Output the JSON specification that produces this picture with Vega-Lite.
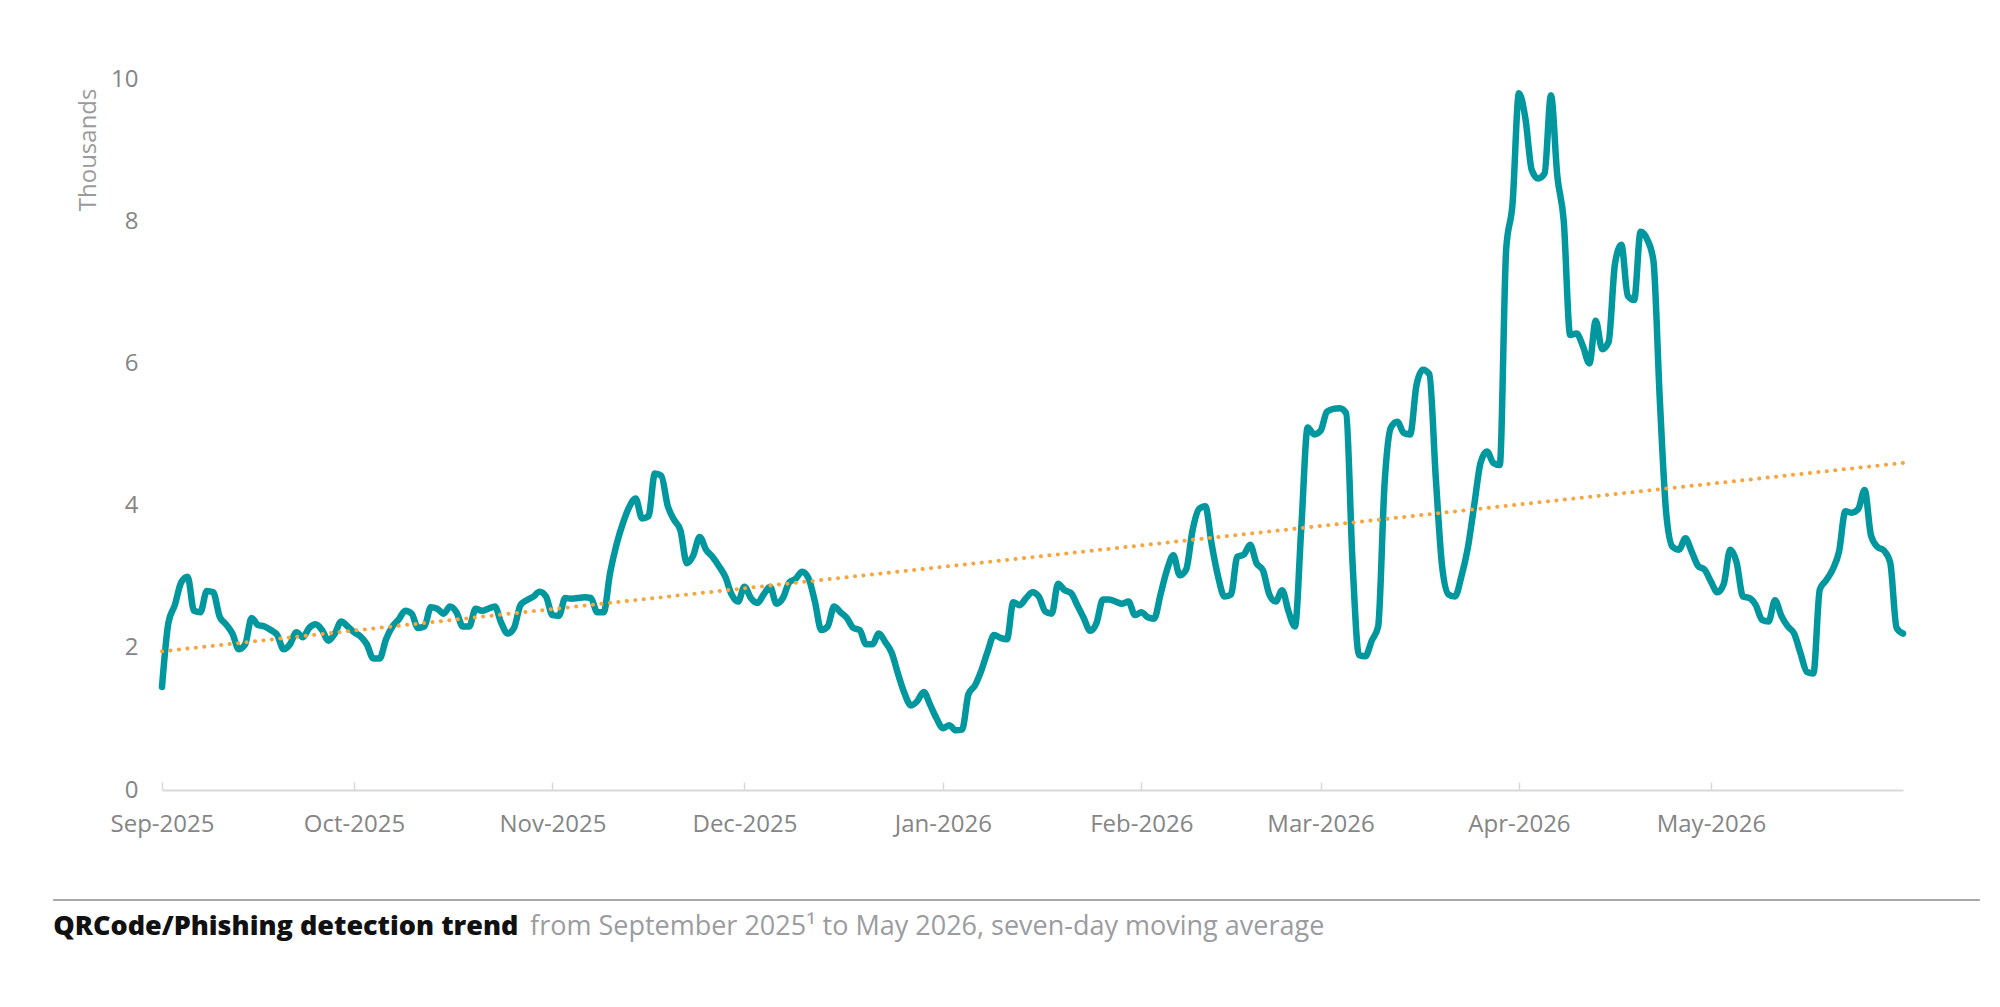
{
  "$schema": "https://vega.github.io/schema/vega-lite/v6.json",
  "width": 1741,
  "height": 711,
  "autosize": {"type": "none"},
  "padding": {"left": 162, "top": 79, "right": 97, "bottom": 217},
  "background": "white",
  "config": {"view": {"stroke": null}, "font": "Open Sans"},
  "datasets": {
    "detections": [
      {"date": "2025-09-01", "k": 1.45}, {"date": "2025-09-02", "k": 2.35}, {"date": "2025-09-03", "k": 2.6}, {"date": "2025-09-04", "k": 2.92},
      {"date": "2025-09-05", "k": 3.0}, {"date": "2025-09-06", "k": 2.52}, {"date": "2025-09-07", "k": 2.5}, {"date": "2025-09-08", "k": 2.8},
      {"date": "2025-09-09", "k": 2.78}, {"date": "2025-09-10", "k": 2.44}, {"date": "2025-09-11", "k": 2.33}, {"date": "2025-09-12", "k": 2.2},
      {"date": "2025-09-13", "k": 1.98}, {"date": "2025-09-14", "k": 2.05}, {"date": "2025-09-15", "k": 2.42}, {"date": "2025-09-16", "k": 2.32},
      {"date": "2025-09-17", "k": 2.3}, {"date": "2025-09-18", "k": 2.25}, {"date": "2025-09-19", "k": 2.18}, {"date": "2025-09-20", "k": 1.98},
      {"date": "2025-09-21", "k": 2.05}, {"date": "2025-09-22", "k": 2.22}, {"date": "2025-09-23", "k": 2.15}, {"date": "2025-09-24", "k": 2.28},
      {"date": "2025-09-25", "k": 2.33}, {"date": "2025-09-26", "k": 2.25}, {"date": "2025-09-27", "k": 2.1}, {"date": "2025-09-28", "k": 2.2},
      {"date": "2025-09-29", "k": 2.37}, {"date": "2025-09-30", "k": 2.3},
      {"date": "2025-10-01", "k": 2.22}, {"date": "2025-10-02", "k": 2.16}, {"date": "2025-10-03", "k": 2.05}, {"date": "2025-10-04", "k": 1.85},
      {"date": "2025-10-05", "k": 1.85}, {"date": "2025-10-06", "k": 2.12}, {"date": "2025-10-07", "k": 2.3}, {"date": "2025-10-08", "k": 2.4},
      {"date": "2025-10-09", "k": 2.52}, {"date": "2025-10-10", "k": 2.48}, {"date": "2025-10-11", "k": 2.28}, {"date": "2025-10-12", "k": 2.3},
      {"date": "2025-10-13", "k": 2.57}, {"date": "2025-10-14", "k": 2.55}, {"date": "2025-10-15", "k": 2.48}, {"date": "2025-10-16", "k": 2.58},
      {"date": "2025-10-17", "k": 2.5}, {"date": "2025-10-18", "k": 2.3}, {"date": "2025-10-19", "k": 2.3}, {"date": "2025-10-20", "k": 2.55},
      {"date": "2025-10-21", "k": 2.52}, {"date": "2025-10-22", "k": 2.55}, {"date": "2025-10-23", "k": 2.58}, {"date": "2025-10-24", "k": 2.35},
      {"date": "2025-10-25", "k": 2.2}, {"date": "2025-10-26", "k": 2.28}, {"date": "2025-10-27", "k": 2.6}, {"date": "2025-10-28", "k": 2.67},
      {"date": "2025-10-29", "k": 2.72}, {"date": "2025-10-30", "k": 2.79}, {"date": "2025-10-31", "k": 2.72},
      {"date": "2025-11-01", "k": 2.46}, {"date": "2025-11-02", "k": 2.45}, {"date": "2025-11-03", "k": 2.7}, {"date": "2025-11-04", "k": 2.69},
      {"date": "2025-11-05", "k": 2.7}, {"date": "2025-11-06", "k": 2.71}, {"date": "2025-11-07", "k": 2.7}, {"date": "2025-11-08", "k": 2.5},
      {"date": "2025-11-09", "k": 2.5}, {"date": "2025-11-10", "k": 3.05}, {"date": "2025-11-11", "k": 3.45}, {"date": "2025-11-12", "k": 3.75},
      {"date": "2025-11-13", "k": 3.98}, {"date": "2025-11-14", "k": 4.1}, {"date": "2025-11-15", "k": 3.82}, {"date": "2025-11-16", "k": 3.85},
      {"date": "2025-11-17", "k": 4.45}, {"date": "2025-11-18", "k": 4.42}, {"date": "2025-11-19", "k": 4.0}, {"date": "2025-11-20", "k": 3.8},
      {"date": "2025-11-21", "k": 3.65}, {"date": "2025-11-22", "k": 3.19}, {"date": "2025-11-23", "k": 3.3}, {"date": "2025-11-24", "k": 3.56},
      {"date": "2025-11-25", "k": 3.38}, {"date": "2025-11-26", "k": 3.28}, {"date": "2025-11-27", "k": 3.15}, {"date": "2025-11-28", "k": 3.0},
      {"date": "2025-11-29", "k": 2.75}, {"date": "2025-11-30", "k": 2.65},
      {"date": "2025-12-01", "k": 2.86}, {"date": "2025-12-02", "k": 2.7}, {"date": "2025-12-03", "k": 2.63}, {"date": "2025-12-04", "k": 2.75},
      {"date": "2025-12-05", "k": 2.86}, {"date": "2025-12-06", "k": 2.62}, {"date": "2025-12-07", "k": 2.7}, {"date": "2025-12-08", "k": 2.92},
      {"date": "2025-12-09", "k": 2.97}, {"date": "2025-12-10", "k": 3.07}, {"date": "2025-12-11", "k": 2.98}, {"date": "2025-12-12", "k": 2.65},
      {"date": "2025-12-13", "k": 2.25}, {"date": "2025-12-14", "k": 2.3}, {"date": "2025-12-15", "k": 2.58}, {"date": "2025-12-16", "k": 2.5},
      {"date": "2025-12-17", "k": 2.42}, {"date": "2025-12-18", "k": 2.28}, {"date": "2025-12-19", "k": 2.25}, {"date": "2025-12-20", "k": 2.05},
      {"date": "2025-12-21", "k": 2.05}, {"date": "2025-12-22", "k": 2.2}, {"date": "2025-12-23", "k": 2.08}, {"date": "2025-12-24", "k": 1.93},
      {"date": "2025-12-25", "k": 1.63}, {"date": "2025-12-26", "k": 1.36}, {"date": "2025-12-27", "k": 1.19}, {"date": "2025-12-28", "k": 1.25},
      {"date": "2025-12-29", "k": 1.38}, {"date": "2025-12-30", "k": 1.2}, {"date": "2025-12-31", "k": 1.01},
      {"date": "2026-01-01", "k": 0.87}, {"date": "2026-01-02", "k": 0.91}, {"date": "2026-01-03", "k": 0.84}, {"date": "2026-01-04", "k": 0.85},
      {"date": "2026-01-05", "k": 1.35}, {"date": "2026-01-06", "k": 1.47}, {"date": "2026-01-07", "k": 1.68}, {"date": "2026-01-08", "k": 1.95},
      {"date": "2026-01-09", "k": 2.18}, {"date": "2026-01-10", "k": 2.14}, {"date": "2026-01-11", "k": 2.12}, {"date": "2026-01-12", "k": 2.64},
      {"date": "2026-01-13", "k": 2.6}, {"date": "2026-01-14", "k": 2.7}, {"date": "2026-01-15", "k": 2.78}, {"date": "2026-01-16", "k": 2.72},
      {"date": "2026-01-17", "k": 2.51}, {"date": "2026-01-18", "k": 2.48}, {"date": "2026-01-19", "k": 2.9}, {"date": "2026-01-20", "k": 2.81},
      {"date": "2026-01-21", "k": 2.77}, {"date": "2026-01-22", "k": 2.6}, {"date": "2026-01-23", "k": 2.42}, {"date": "2026-01-24", "k": 2.24},
      {"date": "2026-01-25", "k": 2.35}, {"date": "2026-01-26", "k": 2.68}, {"date": "2026-01-27", "k": 2.68}, {"date": "2026-01-28", "k": 2.65},
      {"date": "2026-01-29", "k": 2.62}, {"date": "2026-01-30", "k": 2.65}, {"date": "2026-01-31", "k": 2.46},
      {"date": "2026-02-01", "k": 2.5}, {"date": "2026-02-02", "k": 2.43}, {"date": "2026-02-03", "k": 2.41}, {"date": "2026-02-04", "k": 2.75},
      {"date": "2026-02-05", "k": 3.09}, {"date": "2026-02-06", "k": 3.3}, {"date": "2026-02-07", "k": 3.02}, {"date": "2026-02-08", "k": 3.1},
      {"date": "2026-02-09", "k": 3.65}, {"date": "2026-02-10", "k": 3.95}, {"date": "2026-02-11", "k": 3.99}, {"date": "2026-02-12", "k": 3.45},
      {"date": "2026-02-13", "k": 3.0}, {"date": "2026-02-14", "k": 2.72}, {"date": "2026-02-15", "k": 2.75}, {"date": "2026-02-16", "k": 3.28},
      {"date": "2026-02-17", "k": 3.31}, {"date": "2026-02-18", "k": 3.45}, {"date": "2026-02-19", "k": 3.19}, {"date": "2026-02-20", "k": 3.09},
      {"date": "2026-02-21", "k": 2.75}, {"date": "2026-02-22", "k": 2.65}, {"date": "2026-02-23", "k": 2.81}, {"date": "2026-02-24", "k": 2.51},
      {"date": "2026-02-25", "k": 2.3}, {"date": "2026-02-26", "k": 3.7}, {"date": "2026-02-27", "k": 5.1}, {"date": "2026-02-28", "k": 5.0},
      {"date": "2026-03-01", "k": 5.05}, {"date": "2026-03-02", "k": 5.32}, {"date": "2026-03-03", "k": 5.36}, {"date": "2026-03-04", "k": 5.37},
      {"date": "2026-03-05", "k": 5.3}, {"date": "2026-03-06", "k": 3.2}, {"date": "2026-03-07", "k": 1.9}, {"date": "2026-03-08", "k": 1.88},
      {"date": "2026-03-09", "k": 2.1}, {"date": "2026-03-10", "k": 2.3}, {"date": "2026-03-11", "k": 4.3}, {"date": "2026-03-12", "k": 5.1},
      {"date": "2026-03-13", "k": 5.18}, {"date": "2026-03-14", "k": 5.02}, {"date": "2026-03-15", "k": 5.0}, {"date": "2026-03-16", "k": 5.7},
      {"date": "2026-03-17", "k": 5.91}, {"date": "2026-03-18", "k": 5.85}, {"date": "2026-03-19", "k": 4.4}, {"date": "2026-03-20", "k": 3.14},
      {"date": "2026-03-21", "k": 2.75}, {"date": "2026-03-22", "k": 2.72}, {"date": "2026-03-23", "k": 3.0}, {"date": "2026-03-24", "k": 3.4},
      {"date": "2026-03-25", "k": 4.0}, {"date": "2026-03-26", "k": 4.6}, {"date": "2026-03-27", "k": 4.76}, {"date": "2026-03-28", "k": 4.6},
      {"date": "2026-03-29", "k": 4.57}, {"date": "2026-03-30", "k": 7.6}, {"date": "2026-03-31", "k": 8.25},
      {"date": "2026-04-01", "k": 9.8}, {"date": "2026-04-02", "k": 9.45}, {"date": "2026-04-03", "k": 8.72}, {"date": "2026-04-04", "k": 8.6},
      {"date": "2026-04-05", "k": 8.67}, {"date": "2026-04-06", "k": 9.77}, {"date": "2026-04-07", "k": 8.63}, {"date": "2026-04-08", "k": 8.0},
      {"date": "2026-04-09", "k": 6.4}, {"date": "2026-04-10", "k": 6.42}, {"date": "2026-04-11", "k": 6.24}, {"date": "2026-04-12", "k": 6.0},
      {"date": "2026-04-13", "k": 6.6}, {"date": "2026-04-14", "k": 6.2}, {"date": "2026-04-15", "k": 6.3}, {"date": "2026-04-16", "k": 7.4},
      {"date": "2026-04-17", "k": 7.67}, {"date": "2026-04-18", "k": 6.95}, {"date": "2026-04-19", "k": 6.89}, {"date": "2026-04-20", "k": 7.85},
      {"date": "2026-04-21", "k": 7.75}, {"date": "2026-04-22", "k": 7.45}, {"date": "2026-04-23", "k": 5.5}, {"date": "2026-04-24", "k": 3.9},
      {"date": "2026-04-25", "k": 3.42}, {"date": "2026-04-26", "k": 3.38}, {"date": "2026-04-27", "k": 3.54}, {"date": "2026-04-28", "k": 3.35},
      {"date": "2026-04-29", "k": 3.15}, {"date": "2026-04-30", "k": 3.1},
      {"date": "2026-05-01", "k": 2.93}, {"date": "2026-05-02", "k": 2.78}, {"date": "2026-05-03", "k": 2.9}, {"date": "2026-05-04", "k": 3.38},
      {"date": "2026-05-05", "k": 3.2}, {"date": "2026-05-06", "k": 2.72}, {"date": "2026-05-07", "k": 2.7}, {"date": "2026-05-08", "k": 2.6},
      {"date": "2026-05-09", "k": 2.39}, {"date": "2026-05-10", "k": 2.37}, {"date": "2026-05-11", "k": 2.67}, {"date": "2026-05-12", "k": 2.45},
      {"date": "2026-05-13", "k": 2.3}, {"date": "2026-05-14", "k": 2.2}, {"date": "2026-05-15", "k": 1.92}, {"date": "2026-05-16", "k": 1.66},
      {"date": "2026-05-17", "k": 1.64}, {"date": "2026-05-18", "k": 2.82}, {"date": "2026-05-19", "k": 2.95}, {"date": "2026-05-20", "k": 3.1},
      {"date": "2026-05-21", "k": 3.35}, {"date": "2026-05-22", "k": 3.92}, {"date": "2026-05-23", "k": 3.9}, {"date": "2026-05-24", "k": 3.95},
      {"date": "2026-05-25", "k": 4.22}, {"date": "2026-05-26", "k": 3.58}, {"date": "2026-05-27", "k": 3.42}, {"date": "2026-05-28", "k": 3.37},
      {"date": "2026-05-29", "k": 3.2}, {"date": "2026-05-30", "k": 2.28}, {"date": "2026-05-31", "k": 2.2}
    ],
    "trendline": [
      {"date": "2025-09-01", "k": 1.95},
      {"date": "2026-05-31", "k": 4.6}
    ]
  },
  "layer": [
    {
      "data": {"name": "detections"},
      "mark": {"type": "line", "color": "#00979f", "strokeWidth": 6.5, "interpolate": "monotone", "strokeJoin": "round", "strokeCap": "round"},
      "encoding": {
        "x": {
          "field": "date",
          "type": "temporal",
          "scale": {
            "type": "utc",
            "domain": [
              {"year": 2025, "month": 9, "date": 1, "utc": true},
              {"year": 2026, "month": 5, "date": 31, "utc": true}
            ]
          },
          "axis": {
            "title": null,
            "grid": false,
            "values": [
              {"year": 2025, "month": 9, "date": 1, "utc": true},
              {"year": 2025, "month": 10, "date": 1, "utc": true},
              {"year": 2025, "month": 11, "date": 1, "utc": true},
              {"year": 2025, "month": 12, "date": 1, "utc": true},
              {"year": 2026, "month": 1, "date": 1, "utc": true},
              {"year": 2026, "month": 2, "date": 1, "utc": true},
              {"year": 2026, "month": 3, "date": 1, "utc": true},
              {"year": 2026, "month": 4, "date": 1, "utc": true},
              {"year": 2026, "month": 5, "date": 1, "utc": true}
            ],
            "format": "%b-%Y",
            "domainColor": "#d9d9d9",
            "domainWidth": 2,
            "tickColor": "#d9d9d9",
            "tickWidth": 1.5,
            "tickSize": -8,
            "labelFontSize": 24,
            "labelColor": "#858585",
            "labelBaseline": "middle",
            "labelPadding": 42,
            "labelFlush": false,
            "labelOverlap": false
          }
        },
        "y": {
          "field": "k",
          "type": "quantitative",
          "scale": {"domain": [0, 10], "nice": false},
          "axis": {
            "values": [0, 2, 4, 6, 8, 10],
            "format": "d",
            "grid": false,
            "domain": false,
            "ticks": false,
            "labelFontSize": 24,
            "labelColor": "#858585",
            "labelPadding": 24,
            "title": "Thousands",
            "titleFontSize": 24,
            "titleFontWeight": "normal",
            "titleColor": "#9a9a9a",
            "titleAngle": -90,
            "titleX": -74,
            "titleY": 9,
            "titleAlign": "right",
            "titleBaseline": "middle"
          }
        }
      }
    },
    {
      "data": {"name": "trendline"},
      "mark": {"type": "line", "color": "#f7a53c", "strokeWidth": 4, "strokeDash": [0.1, 8.4], "strokeCap": "round"},
      "encoding": {
        "x": {"field": "date", "type": "temporal"},
        "y": {"field": "k", "type": "quantitative"}
      }
    },
    {
      "data": {"values": [{}]},
      "mark": {"type": "rule", "color": "#a8a8ab", "strokeWidth": 2},
      "encoding": {
        "x": {"datum": {"year": 2025, "month": 8, "date": 15, "utc": true}, "type": "temporal"},
        "x2": {"datum": {"year": 2026, "month": 6, "date": 12, "utc": true}},
        "y": {"datum": -1.547, "type": "quantitative"}
      }
    },
    {
      "data": {"values": [{}]},
      "mark": {"type": "text", "text": "QRCode/Phishing detection trend", "align": "left", "baseline": "middle", "fontSize": 27, "fontWeight": 800, "color": "#111111"},
      "encoding": {
        "x": {"datum": {"year": 2025, "month": 8, "date": 15, "utc": true}, "type": "temporal"},
        "y": {"datum": -1.927, "type": "quantitative"}
      }
    },
    {
      "data": {"values": [{}]},
      "mark": {"type": "text", "text": "from September 2025¹ to May 2026, seven-day moving average", "align": "left", "baseline": "middle", "fontSize": 27, "color": "#9b9ba0"},
      "encoding": {
        "x": {"datum": {"year": 2025, "month": 10, "date": 28, "hours": 12, "utc": true}, "type": "temporal"},
        "y": {"datum": -1.927, "type": "quantitative"}
      }
    }
  ]
}
